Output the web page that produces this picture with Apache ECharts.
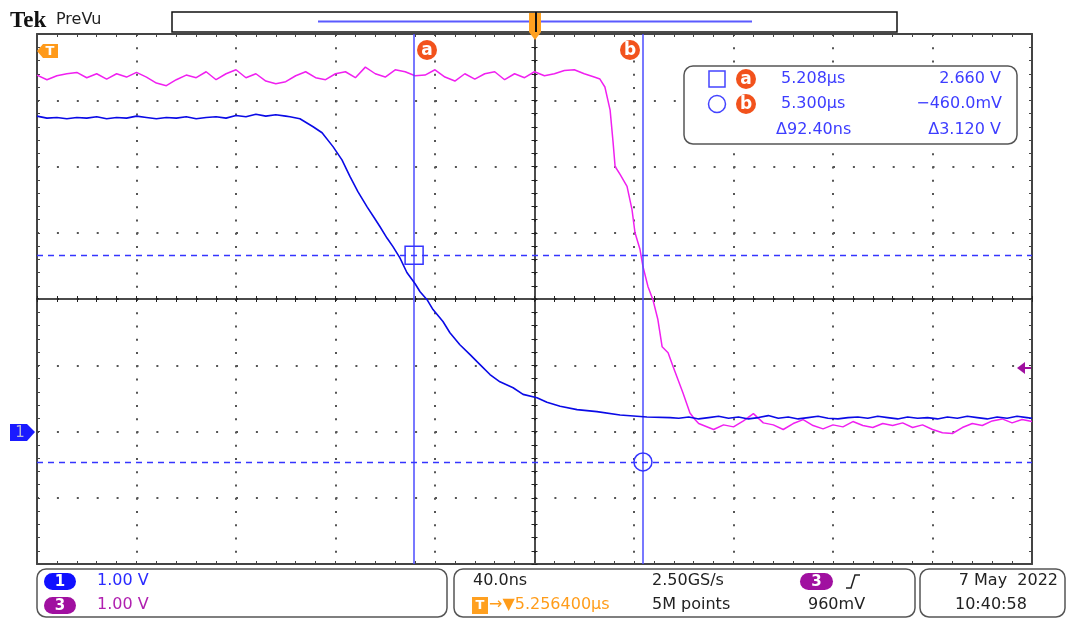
<!DOCTYPE html>
<html>
<head>
<meta charset="utf-8">
<script src="https://cdn.jsdelivr.net/npm/echarts@6/dist/echarts.min.js"></script>
<style>
html,body{margin:0;padding:0;background:#fff;}
#chart{width:1069px;height:619px;}
</style>
</head>
<body>
<div id="chart"></div>
<script>
// ---- data (time in ns relative to screen centre, voltage in V) ----
const centreTimeUs = 5.2564;
const ch1Time = [-200,-196,-192,-188,-184,-180,-176,-172,-168,-164,-160,-156,-152,-148,-144,-140,-136,-132,-128,-124,-120,-116,-112,-108,-104,-100,
  -98.3,-94.3,-89.0,-85.4,-81.0,-77.4,-74.2,-71.0,-67.3,-64.5,-62.1,-59.3,-56.9,-54.1,-51.3,-48.0,-46.0,-43.2,-40.8,-36.8,-34.0,-30.0,-25.9,-21.9,-17.9,-13.9,-8.6,-4.6,1.0,5.0,10.3,17.1,25.1,34.4,45.2,54.5,
  58,62,66,70,74,78,82,86,90,94,98,102,106,110,114,118,122,126,130,134,138,142,146,150,154,158,162,166,170,174,178,182,186,190,194,198,200];
const ch1Volt = [4.76,4.73,4.74,4.72,4.74,4.73,4.75,4.72,4.74,4.73,4.76,4.74,4.72,4.74,4.73,4.75,4.72,4.74,4.75,4.73,4.77,4.75,4.79,4.76,4.78,4.76,
  4.75,4.72,4.60,4.51,4.30,4.10,3.85,3.62,3.39,3.23,3.09,2.92,2.79,2.62,2.40,2.23,2.11,1.99,1.84,1.66,1.49,1.31,1.16,1.01,0.86,0.75,0.66,0.56,0.51,0.44,0.38,0.33,0.30,0.25,0.22,0.21,
  0.20,0.22,0.19,0.21,0.23,0.20,0.22,0.19,0.21,0.24,0.20,0.22,0.19,0.21,0.23,0.20,0.19,0.21,0.22,0.20,0.23,0.21,0.19,0.22,0.20,0.21,0.19,0.22,0.20,0.23,0.21,0.19,0.22,0.20,0.23,0.21,0.20];

const ch3Time = [-200,-196,-192,-188,-184,-180,-176,-172,-168,-164,-160,-156,-152,-148,-144,-140,-136,-132,-128,-124,-120,-116,-112,-108,-104,-100,-96,-92,-88,-84,-80,-76,-72,-68,-64,-60,-56,-52,-48,-44,-40,-36,-32,-28,-24,-20,-16,-12,-8,-4,0,4,8,12,16,20,24,
  26.3,28.3,30.4,31.6,32.4,34.4,37.2,39.2,40.4,42.4,43.6,45.6,47.6,49.6,51.3,53.7,55.7,57.7,59.7,62.5,64.5,
  66,68,72,76,80,84,88,92,96,100,104,108,112,116,120,124,128,132,136,140,144,148,152,156,160,164,168,172,176,180,184,188,192,196,200];
const ch3Volt = [5.38,5.31,5.37,5.40,5.42,5.34,5.40,5.32,5.40,5.35,5.42,5.35,5.26,5.22,5.31,5.38,5.34,5.43,5.31,5.40,5.46,5.34,5.40,5.29,5.25,5.28,5.37,5.43,5.34,5.31,5.40,5.43,5.34,5.50,5.40,5.35,5.46,5.43,5.37,5.38,5.46,5.35,5.29,5.40,5.32,5.40,5.43,5.31,5.40,5.34,5.43,5.37,5.40,5.45,5.46,5.40,5.35,
  5.32,5.20,4.85,4.36,4.00,3.88,3.70,3.35,3.00,2.75,2.49,2.19,1.99,1.69,1.28,1.19,0.98,0.78,0.58,0.28,0.18,
  0.12,0.09,0.03,0.10,0.07,0.16,0.27,0.13,0.10,0.03,0.12,0.18,0.09,0.04,0.10,0.07,0.15,0.09,0.06,0.12,0.09,0.13,0.06,0.10,0.03,-0.02,-0.03,0.06,0.12,0.09,0.16,0.19,0.13,0.18,0.15];

const cursorTimesUs = [5.208, 5.300];
const cursorVolts = [2.660, -0.460];
const deltaTimeText = 'Δ92.40ns';
const deltaVoltText = 'Δ3.120 V';
const voltReadouts = ['2.660 V', '−460.0mV'];
const chScaleLabels = ['1.00 V', '1.00 V'];
const timebaseLabels = ['40.0ns', '2.50GS/s', '5M points', '960mV'];
const triggerOffsetText = '→▼5.256400µs';
const dateLabels = ['7 May  2022', '10:40:58'];
const trigLevel = 0.96;

// ---- build ----
const ch1 = ch1Time.map((t,i)=>[t, ch1Volt[i]]);
const ch3 = ch3Time.map((t,i)=>[t, ch3Volt[i]]);
const cursorX = cursorTimesUs.map(u => +((u - centreTimeUs) * 1000).toFixed(2));

const FONT = 'DejaVu Sans';
const BLUE_TXT = '#3d3dff';
const GRID_DOT = '#555';

function baseX(extra){
  return Object.assign({
    type:'value', min:-200, max:200, interval:40,
    axisLabel:{show:false}, splitLine:{show:false},
    axisLine:{onZero:false, lineStyle:{color:'#444', width:2}},
    axisTick:{show:true, inside:true, length:3, lineStyle:{color:'#444', width:1}},
    minorTick:{show:true, splitNumber:5, length:3, lineStyle:{color:'#444', width:1}}
  }, extra);
}
function baseY(extra){
  return Object.assign({
    type:'value', min:-2, max:6, interval:1,
    axisLabel:{show:false}, splitLine:{show:false},
    axisLine:{onZero:false, lineStyle:{color:'#444', width:2}},
    axisTick:{show:true, inside:true, length:3, lineStyle:{color:'#444', width:1}},
    minorTick:{show:true, splitNumber:5, length:3, lineStyle:{color:'#444', width:1}}
  }, extra);
}

const chart = echarts.init(document.getElementById('chart'), null, {renderer:'canvas'});

function badge(cx, cy, letter){
  return [
    {type:'circle', shape:{cx:cx, cy:cy, r:10}, style:{fill:'#f2521c'}, z:100},
    {type:'text', x:cx, y:cy+0.5, style:{text:letter, fill:'#fff', font:'bold 17px "DejaVu Sans"', align:'center', verticalAlign:'middle'}, z:101}
  ];
}

const graphics = [
  // Tek logo
  {type:'text', x:10, y:21, style:{text:'Tek', font:'bold 23px "Liberation Serif"', fill:'#111', verticalAlign:'middle'}},
  {type:'text', x:56, y:20, style:{text:'PreVu', font:'16px '+FONT, fill:'#222', verticalAlign:'middle'}},
  // record view bar
  {type:'rect', shape:{x:172, y:12, width:725, height:20}, style:{fill:'#fff', stroke:'#111', lineWidth:1.5}},
  {type:'line', shape:{x1:318, y1:21.5, x2:752, y2:21.5}, style:{stroke:'#5a5aff', lineWidth:2}},
  {type:'rect', shape:{x:529, y:13, width:12, height:19}, style:{fill:'#ffa020'}, z:50},
  {type:'line', shape:{x1:536, y1:12, x2:536, y2:34}, style:{stroke:'#111', lineWidth:2}, z:51},
  {type:'polygon', shape:{points:[[529,32],[541,32],[535,40]]}, style:{fill:'#ffa020'}, z:51},
  // trigger-off-screen marker (top-left)
  {type:'polygon', shape:{points:[[37,51],[43,44],[58,44],[58,58],[43,58]]}, style:{fill:'#ff9a1a'}, z:60},
  {type:'text', x:50, y:51.5, style:{text:'T', font:'bold 13px '+FONT, fill:'#fff', align:'center', verticalAlign:'middle'}, z:61},
  // channel 1 ground marker
  {type:'polygon', shape:{points:[[10,424],[27,424],[35,432],[27,441],[10,441]]}, style:{fill:'#1a1aff'}, z:60},
  {type:'text', x:20, y:433, style:{text:'1', font:'15px '+FONT, fill:'#b8b8d8', align:'center', verticalAlign:'middle'}, z:61},
  // trigger level marker (right)
  {type:'polygon', shape:{points:[[1017,368],[1025,362],[1025,374]]}, style:{fill:'#a010a0'}, z:60},
  {type:'line', shape:{x1:1024, y1:368, x2:1031, y2:368}, style:{stroke:'#a010a0', lineWidth:2}, z:60},
  // readout box
  {type:'rect', shape:{x:684, y:66, width:333, height:78, r:9}, style:{fill:'#fff', stroke:'#555', lineWidth:1.5}, z:90},
  {type:'rect', shape:{x:709, y:71, width:16, height:16}, style:{fill:'none', stroke:'#4444ff', lineWidth:1.5}, z:91},
  {type:'circle', shape:{cx:717, cy:104, r:8.5}, style:{fill:'none', stroke:'#4444ff', lineWidth:1.5}, z:91},
  {type:'text', x:781, y:79, style:{text:cursorTimesUs[0].toFixed(3)+'µs', font:'16px '+FONT, fill:BLUE_TXT, verticalAlign:'middle'}, z:91},
  {type:'text', x:781, y:104, style:{text:cursorTimesUs[1].toFixed(3)+'µs', font:'16px '+FONT, fill:BLUE_TXT, verticalAlign:'middle'}, z:91},
  {type:'text', x:776, y:130, style:{text:deltaTimeText, font:'16px '+FONT, fill:BLUE_TXT, verticalAlign:'middle'}, z:91},
  {type:'text', x:1001, y:79, style:{text:voltReadouts[0], font:'16px '+FONT, fill:BLUE_TXT, align:'right', verticalAlign:'middle'}, z:91},
  {type:'text', x:1002, y:104, style:{text:voltReadouts[1], font:'16px '+FONT, fill:BLUE_TXT, align:'right', verticalAlign:'middle'}, z:91},
  {type:'text', x:1001, y:130, style:{text:deltaVoltText, font:'16px '+FONT, fill:BLUE_TXT, align:'right', verticalAlign:'middle'}, z:91},
  // bottom boxes
  {type:'rect', shape:{x:37, y:569, width:410, height:48, r:9}, style:{fill:'#fff', stroke:'#555', lineWidth:1.5}},
  {type:'rect', shape:{x:454, y:569, width:461, height:48, r:9}, style:{fill:'#fff', stroke:'#555', lineWidth:1.5}},
  {type:'rect', shape:{x:920, y:569, width:145, height:48, r:9}, style:{fill:'#fff', stroke:'#555', lineWidth:1.5}},
  {type:'rect', shape:{x:44, y:573, width:32, height:17, r:8.5}, style:{fill:'#1010ff'}},
  {type:'text', x:60, y:582, style:{text:'1', font:'bold 15px '+FONT, fill:'#fff', align:'center', verticalAlign:'middle'}},
  {type:'text', x:97, y:581, style:{text:chScaleLabels[0], font:'16px '+FONT, fill:'#2a2aff', verticalAlign:'middle'}},
  {type:'rect', shape:{x:44, y:597, width:32, height:17, r:8.5}, style:{fill:'#a010a0'}},
  {type:'text', x:60, y:606, style:{text:'3', font:'bold 15px '+FONT, fill:'#fff', align:'center', verticalAlign:'middle'}},
  {type:'text', x:97, y:605, style:{text:chScaleLabels[1], font:'16px '+FONT, fill:'#b020b0', verticalAlign:'middle'}},
  {type:'text', x:473, y:581, style:{text:timebaseLabels[0], font:'16px '+FONT, fill:'#222', verticalAlign:'middle'}},
  {type:'rect', shape:{x:472, y:597, width:16, height:17}, style:{fill:'#ffa020'}},
  {type:'text', x:480, y:606, style:{text:'T', font:'bold 13px '+FONT, fill:'#fff', align:'center', verticalAlign:'middle'}},
  {type:'text', x:489, y:605, style:{text:triggerOffsetText, font:'16px '+FONT, fill:'#ff9c1a', verticalAlign:'middle'}},
  {type:'text', x:652, y:581, style:{text:timebaseLabels[1], font:'16px '+FONT, fill:'#222', verticalAlign:'middle'}},
  {type:'text', x:652, y:605, style:{text:timebaseLabels[2], font:'16px '+FONT, fill:'#222', verticalAlign:'middle'}},
  {type:'rect', shape:{x:800, y:573, width:33, height:17, r:8.5}, style:{fill:'#a010a0'}},
  {type:'text', x:816.5, y:582, style:{text:'3', font:'bold 15px '+FONT, fill:'#fff', align:'center', verticalAlign:'middle'}},
  {type:'polyline', shape:{points:[[846,588],[851,588],[855,575],[860,575]]}, style:{stroke:'#222', lineWidth:1.5, fill:'none'}},
  {type:'text', x:808, y:605, style:{text:timebaseLabels[3], font:'16px '+FONT, fill:'#222', verticalAlign:'middle'}},
  {type:'text', x:1058, y:581, style:{text:dateLabels[0], font:'16px '+FONT, fill:'#222', align:'right', verticalAlign:'middle'}},
  {type:'text', x:955, y:605, style:{text:dateLabels[1], font:'16px '+FONT, fill:'#222', verticalAlign:'middle'}}
].concat(badge(427, 50, 'a'), badge(630, 50, 'b'), badge(746, 79, 'a'), badge(746, 104, 'b'));

chart.setOption({
  animation:false,
  backgroundColor:'#fff',
  grid:{left:37, right:37, top:34, bottom:55, containLabel:false},
  xAxis:[
    baseX({position:'bottom', splitLine:{show:true, lineStyle:{color:GRID_DOT, width:2, type:[2, 11.25]}}}),
    baseX({position:'top'}),
    baseX({position:'bottom', offset:-265, axisLine:{onZero:false, lineStyle:{color:'#111', width:1.5}},
           axisTick:{show:true, inside:false, length:3, lineStyle:{color:'#222'}}, minorTick:{show:true, splitNumber:5, length:3, lineStyle:{color:'#222'}}}),
    baseX({position:'bottom', offset:-265, axisLine:{show:false, onZero:false},
           axisTick:{show:true, inside:true, length:3, lineStyle:{color:'#222'}}, minorTick:{show:true, splitNumber:5, length:3, lineStyle:{color:'#222'}}})
  ],
  yAxis:[
    baseY({position:'left', splitLine:{show:true, lineStyle:{color:GRID_DOT, width:2, type:[2, 17.9]}}}),
    baseY({position:'right'}),
    baseY({position:'left', offset:-497.5, axisLine:{onZero:false, lineStyle:{color:'#111', width:1.5}},
           axisTick:{show:true, inside:false, length:3, lineStyle:{color:'#222'}}, minorTick:{show:true, splitNumber:5, length:3, lineStyle:{color:'#222'}}}),
    baseY({position:'left', offset:-497.5, axisLine:{show:false, onZero:false},
           axisTick:{show:true, inside:true, length:3, lineStyle:{color:'#222'}}, minorTick:{show:true, splitNumber:5, length:3, lineStyle:{color:'#222'}}})
  ],
  series:[
    {
      name:'CH1', type:'line', xAxisIndex:0, yAxisIndex:0, data:ch1, showSymbol:false, z:5,
      lineStyle:{color:'#0a0ae6', width:1.6}, itemStyle:{color:'#0a0ae6'},
      markLine:{silent:true, symbol:'none', animation:false, label:{show:false},
        data:[
          {xAxis:cursorX[0], lineStyle:{color:'#4b4bff', width:1.5, type:'solid'}},
          {xAxis:cursorX[1], lineStyle:{color:'#4b4bff', width:1.5, type:'solid'}},
          {yAxis:cursorVolts[0], lineStyle:{color:'#3535ff', width:1.3, type:[6,5]}},
          {yAxis:cursorVolts[1], lineStyle:{color:'#3535ff', width:1.3, type:[6,5]}}
        ]},
      markPoint:{silent:true, animation:false, label:{show:false},
        data:[
          {coord:[cursorX[0], cursorVolts[0]], symbol:'rect', symbolSize:18, itemStyle:{color:'rgba(0,0,0,0)', borderColor:'#3535ff', borderWidth:1.5}},
          {coord:[cursorX[1], cursorVolts[1]], symbol:'circle', symbolSize:18, itemStyle:{color:'rgba(0,0,0,0)', borderColor:'#3535ff', borderWidth:1.5}}
        ]}
    },
    {
      name:'CH3', type:'line', xAxisIndex:0, yAxisIndex:0, data:ch3, showSymbol:false, z:4,
      lineStyle:{color:'#f020f0', width:1.5}, itemStyle:{color:'#f020f0'}
    }
  ],
  graphic:{elements:graphics}
});
</script>
</body>
</html>
